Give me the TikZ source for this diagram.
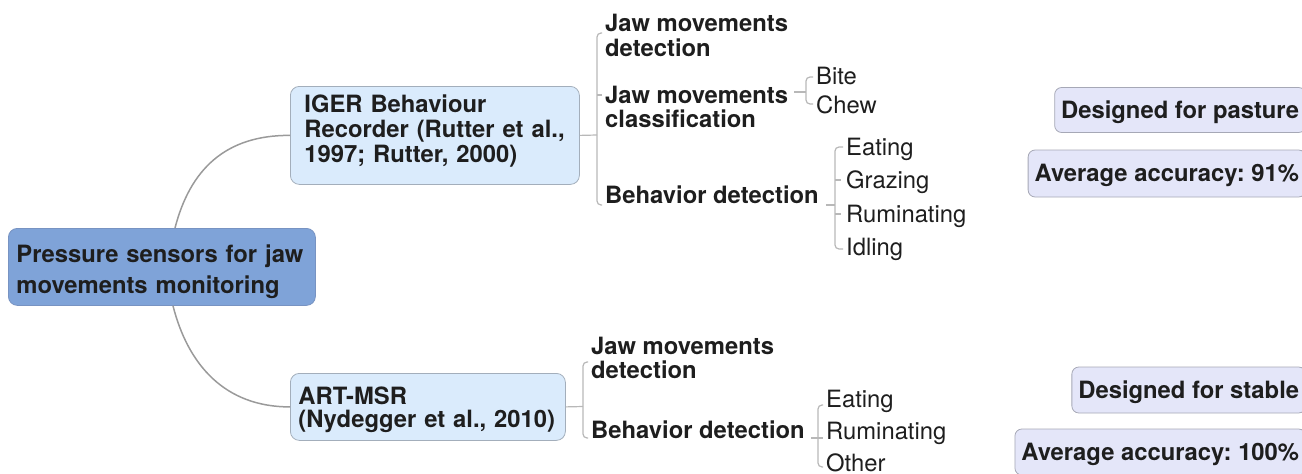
\documentclass[tikz,border=0pt]{standalone}
\usepackage{fontspec}
\setmainfont{TeX Gyre Heros}
\usetikzlibrary{calc}
\definecolor{rootfill}{HTML}{7FA3D8}
\definecolor{rootdraw}{HTML}{7893C2}
\definecolor{subfill}{HTML}{DAEBFC}
\definecolor{subdraw}{HTML}{A3AEBB}
\definecolor{notefill}{HTML}{E4E6F9}
\definecolor{notedraw}{HTML}{A6A8B6}
\definecolor{linkc}{HTML}{9A9A9A}
\definecolor{brc}{HTML}{B8B8B8}
\definecolor{txt}{HTML}{1E1E1E}
\newcommand\ml[1]{\begin{tabular}[t]{@{}l@{}}#1\end{tabular}}
\newcommand\tpst[1]{\rule{0pt}{#1pt}}
\newcommand\dpst[1]{\rule[-#1pt]{0pt}{0pt}}
\frenchspacing
\begin{document}
\begin{tikzpicture}[x=1pt,y=-1pt,
  rootbox/.style={draw=rootdraw, fill=rootfill, line width=0.8pt, rounded corners=9pt,
    inner ysep=0pt, align=left, text=txt, font=\bfseries\fontsize{23.8}{31}\selectfont},
  subbox/.style={draw=subdraw, fill=subfill, line width=0.8pt, rounded corners=9pt,
    inner ysep=0pt, align=left, text=txt},
  note/.style={draw=notedraw, fill=notefill, line width=0.8pt, rounded corners=7pt,
    inner xsep=6.5pt, inner ysep=0pt, text height=17pt, text depth=0.5pt, text=txt,
    font=\bfseries\fontsize{23.8}{25}\selectfont},
  bl/.style={inner sep=0pt, text=txt, font=\bfseries\fontsize{23.8}{24}\selectfont},
  rl/.style={inner sep=0pt, text=txt, font=\fontsize{23.8}{24}\selectfont},
  link/.style={draw=linkc, line width=1.5pt},
  brk/.style={draw=brc, line width=1.2pt, rounded corners=4pt}]
\useasboundingbox (0,0) rectangle (1302,474);
\clip (0,0) rectangle (1302,474);

% main boxes
\node[rootbox, anchor=north west, minimum width=307pt, minimum height=77pt,
  text width=291pt, inner xsep=8pt] (root) at (8,228)
  {\tpst{28}Pressure sensors for jaw\\movements monitoring\dpst{6}};
\node[subbox, anchor=north west, minimum width=289pt, minimum height=98pt,
  text width=261pt, inner xsep=14pt, font=\bfseries\fontsize{23.8}{25}\selectfont] (iger) at (290,86)
  {\tpst{18}IGER Behaviour\\Recorder (Rutter et al.,\\1997; Rutter, 2000)\dpst{14}};
\node[subbox, anchor=north west, minimum width=275pt, minimum height=67pt,
  text width=259pt, inner xsep=8pt, font=\bfseries\fontsize{23.8}{23}\selectfont] (art) at (290,373)
  {\tpst{24}ART-MSR\\(Nydegger et al., 2010)\dpst{6}};

% notes
\node[note, anchor=east, minimum height=45pt] (n1) at (1306,110) {Designed for pasture};
\node[note, anchor=east, minimum height=47pt] (n2) at (1306,173.5) {Average accuracy: 91\%};
\node[note, anchor=east, minimum height=46pt] (n3) at (1306,390) {Designed for stable};
\node[note, anchor=east, minimum height=46pt] (n4) at (1306,452) {Average accuracy: 100\%};

% top children
\node[bl, anchor=base west] (c1) at (605,31.5) {\ml{Jaw movements\\detection}};
\node[bl, anchor=base west] (c2) at (605,103) {\ml{Jaw movements\\classification}};
\node[bl, anchor=base west] (c3) at (605,203) {Behavior detection};
\node[rl, anchor=base west] (l1) at (816,84) {Bite};
\node[rl, anchor=base west] (l2) at (816,113) {Chew};
\node[rl, anchor=base west] (l3) at (846,155) {Eating};
\node[rl, anchor=base west] (l4) at (846,188) {Grazing};
\node[rl, anchor=base west] (l5) at (846,222) {Ruminating};
\node[rl, anchor=base west] (l6) at (846,255) {Idling};

% bottom children
\node[bl, anchor=base west] (c4) at (591,354) {\ml{Jaw movements\\detection}};
\node[bl, anchor=base west] (c5) at (591,438) {Behavior detection};
\node[rl, anchor=base west] (l7) at (826,407) {Eating};
\node[rl, anchor=base west] (l8) at (826,439) {Ruminating};
\node[rl, anchor=base west] (l9) at (826,471) {Other};

% root links
\draw[link] ([xshift=167pt]root.north west) .. controls (190,170) and (225,135) .. (iger.west);
\draw[link] ([xshift=165pt]root.south west) .. controls (188,365) and (225,407) .. (art.west);

% top bracket
\coordinate (j1) at (597,135);
\draw[brk] (iger.east) -- (j1);
\draw[brk] ([shift={(-3,1.5)}]c1.base west) -| (j1) |- ([shift={(-3,2)}]c3.base west);
\draw[brk] ([shift={(-8,-8)}]c2.base west) -- ([shift={(-3,-8)}]c2.base west);

% bite/chew
\coordinate (j2) at (806,92);
\draw[brk] ($(c2.east |- j2)+(6,0)$) -- (j2);
\draw[brk] ([shift={(-3,-7)}]l1.base west) -| (j2) |- ([shift={(-3,-9)}]l2.base west);

% behaviours (top)
\coordinate (j3) at (835,205);
\draw[brk] ($(c3.east |- j3)+(7,0)$) -- (j3);
\draw[brk] ([shift={(-3,-8)}]l3.base west) -| (j3) |- ([shift={(-3,-6)}]l6.base west);
\draw[brk] ([shift={(-11,-8)}]l4.base west) -- ([shift={(-5,-8)}]l4.base west);
\draw[brk] ([shift={(-11,-8)}]l5.base west) -- ([shift={(-5,-8)}]l5.base west);

% bottom bracket
\coordinate (j4) at (583,406.5);
\draw[brk] (art.east) -- (j4);
\draw[brk] ([shift={(-3,8)}]c4.base west) -| (j4) |- ([shift={(-3,0)}]c5.base west);

% behaviours (bottom)
\coordinate (j5) at (818,438);
\draw[brk] ($(c5.east |- j5)+(6,0)$) -- (j5);
\draw[brk] ([shift={(-3,-2)}]l7.base west) -| (j5) |- ([shift={(-3,-4)}]l9.base west);
\draw[brk] ([shift={(-8,-1)}]l8.base west) -- ([shift={(-3,-1)}]l8.base west);
\end{tikzpicture}
\end{document}
